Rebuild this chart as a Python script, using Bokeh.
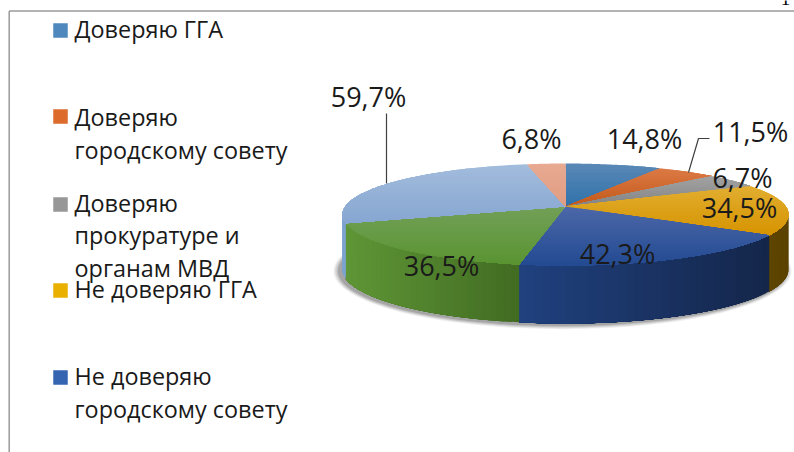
from bokeh.plotting import figure
from bokeh.models import Range1d
from bokeh.core.properties import value
from bokeh.embed import file_html
from bokeh.resources import INLINE
import math

# ---- data ----
slice_labels = ["14,8%", "11,5%", "6,7%", "34,5%", "42,3%", "36,5%", "59,7%", "6,8%"]
# apparent sweep of every slice as drawn (degrees)
slice_sweeps = [25, 16, 15, 58, 78, 68, 90, 10]
top_colors = [("#5a88b6", "#2f72aa"), ("#dc7a45", "#c2591b"), ("#a3a3a3", "#838383"),
              ("#e2ae30", "#d69300"), ("#4c68a8", "#234a92"), ("#72a058", "#5a9431"),
              ("#a2bcdc", "#86a6d1"), ("#e8aa92", "#e09c82")]
# wall colours: left end, right end
wall_colors = [("#2a5a85", "#2a5a85"), ("#8a4010", "#8a4010"), ("#606060", "#606060"),
               ("#5e4500", "#5a4200"), ("#20417f", "#14264a"), ("#5f9636", "#416b22"),
               ("#7da3cf", "#7da3cf"), ("#b07060", "#b07060")]
legend_colors = ["#4f88bd", "#dd6b2b", "#979797", "#eab000", "#3565b0"]
legend_lines = [["Доверяю ГГА"], ["Доверяю", "городскому совету"],
                ["Доверяю", "прокуратуре и", "органам МВД"], ["Не доверяю ГГА"],
                ["Не доверяю", "городскому совету"]]

# ---- layout, in page pixels ----
W, H = 794, 452
CX, CY, RX, RY = 565, 214, 223, 51
APEX_Y, BOTTOM_CY, BOTTOM_RY = 206, 269, 54
BANDS = 26
legend_square_y = [30, 116, 204, 290, 377]
legend_first_line_y = [28, 116, 202, 288, 375]
legend_line_gap = [0, 33, 32.5, 0, 33]
label_xy = [(644, 138), (750, 131), (742, 177), (739, 207), (617, 253), (441, 265), (368, 96), (531, 138)]

p = figure(width=W, height=H, x_range=Range1d(0, W), y_range=Range1d(H, 0),
           output_backend="svg", toolbar_location=None, min_border=0, outline_line_color=None)
p.xaxis.visible = False
p.yaxis.visible = False
p.grid.visible = False


def mix(a, b, f):
    ca = [int(a[i:i + 2], 16) for i in (1, 3, 5)]
    cb = [int(b[i:i + 2], 16) for i in (1, 3, 5)]
    return "#%02x%02x%02x" % tuple(round(x + (y - x) * f) for x, y in zip(ca, cb))


def top_pt(t):
    r = math.radians(t)
    return CX + RX * math.sin(r), CY - RY * math.cos(r)


def bot_pt(t):
    r = math.radians(t)
    return CX + RX * math.sin(r), BOTTOM_CY - BOTTOM_RY * math.cos(r)


def clip_below(poly, ymin):
    out = []
    for i, a in enumerate(poly):
        b = poly[(i + 1) % len(poly)]
        ia, ib = a[1] >= ymin, b[1] >= ymin
        if ia:
            out.append(a)
        if ia != ib:
            f = (ymin - a[1]) / (b[1] - a[1])
            out.append((a[0] + (b[0] - a[0]) * f, ymin))
    return out


# frame
p.segment([8.7, 8.7], [10.5, 10.5], [8.7, 794], [452, 10.5], line_color="#9a9a9a", line_width=1.5)

# page number cut by the top edge, as in the reference
p.text([785], [4], text=["1"], text_font=value("Liberation Serif"), text_font_size="19px",
       text_color="#000000", text_align="center", text_baseline="bottom")

# soft shadow
for grow, a in [(6, 0.10), (4.5, 0.14), (3, 0.18), (1.5, 0.25)]:
    p.ellipse([CX - 3], [BOTTOM_CY + 1.5], width=2 * (RX + grow), height=2 * (BOTTOM_RY + grow * 0.7),
              fill_color="#555555", fill_alpha=a, line_color=None)

# walls and top face
total = sum(slice_sweeps)
wx, wy, wc, tx, ty, tc = [], [], [], [], [], []
start = 0
for sw, tcol, wcol in zip(slice_sweeps, top_colors, wall_colors):
    end = start + sw * 360 / total
    # top face: painted band over band, each covering everything below it
    poly = [(CX, APEX_Y)] + [top_pt(start + (end - start) * i / 60) for i in range(61)]
    ymin, ymax = min(q[1] for q in poly), max(q[1] for q in poly)
    for b in range(BANDS):
        piece = clip_below(poly, ymin + (ymax - ymin) * b / BANDS)
        if len(piece) > 2:
            tx.append([q[0] for q in piece])
            ty.append([q[1] for q in piece])
            tc.append(mix(tcol[0], tcol[1], (b + 0.5) / BANDS))
    # wall on the visible front half only, painted strip over strip
    a, b = max(start, 90), min(end, 270)
    if b > a:
        n = max(1, int((b - a) / 2.0))
        x_right, x_left = top_pt(a)[0], top_pt(b)[0]
        for i in range(n):
            t1 = a + (b - a) * i / n
            ts = [t1 + (b - t1) * j / 12 for j in range(13)]
            q = [top_pt(t) for t in ts] + [bot_pt(t) for t in reversed(ts)]
            wx.append([z[0] for z in q])
            wy.append([z[1] for z in q])
            xm = top_pt(t1 + (b - a) / n / 2)[0]
            f = (xm - x_left) / (x_right - x_left) if x_right != x_left else 0
            wc.append(mix(wcol[0], wcol[1], f))
    start = end

p.patches(wx, wy, fill_color=wc, line_color=None)
p.patches(tx, ty, fill_color=tc, line_color=None)

# leader lines
p.line([386, 386], [113, 183], line_color="#404040", line_width=1.2)
p.line([709, 698, 688], [138, 138, 172], line_color="#404040", line_width=1.2)

# data labels
p.text([q[0] for q in label_xy], [q[1] for q in label_xy], text=slice_labels,
       text_font=value("Open Sans"), text_font_size="27px", text_color="#1a1a1a",
       text_align="center", text_baseline="middle")

# legend
p.rect([60] * 5, legend_square_y, width=14.5, height=14.5, fill_color=legend_colors, line_color=None)
lx, ly, lt = [], [], []
for lines, y0, gap in zip(legend_lines, legend_first_line_y, legend_line_gap):
    for i, s in enumerate(lines):
        lx.append(74)
        ly.append(y0 + i * gap)
        lt.append(s)
p.text(lx, ly, text=lt, text_font=value("Open Sans"), text_font_size="23.4px", text_color="#1a1a1a",
       text_align="left", text_baseline="middle")

open("out.html", "w").write(file_html(p, INLINE))
